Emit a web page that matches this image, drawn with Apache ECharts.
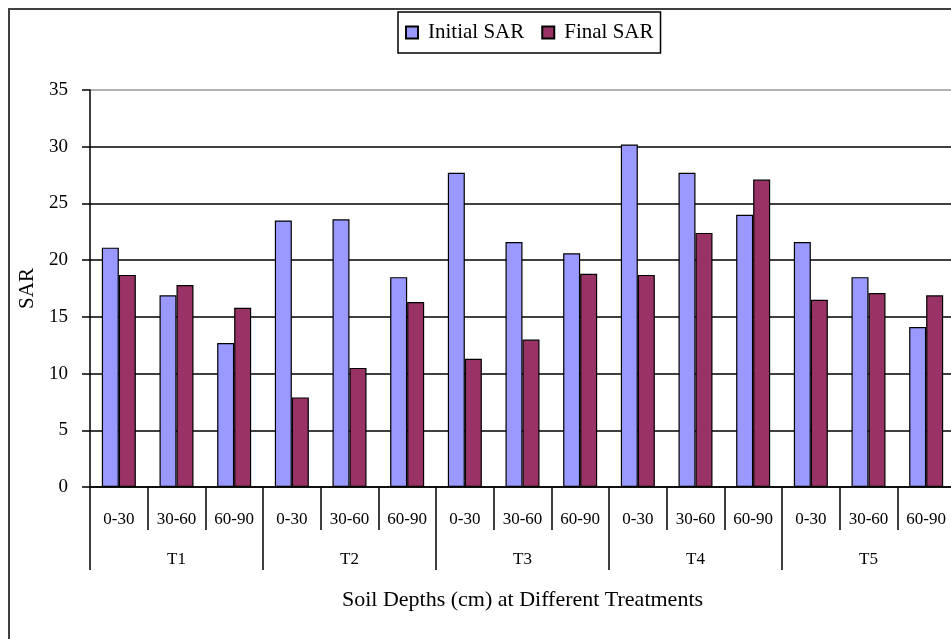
<!DOCTYPE html>
<html>
<head>
<meta charset="utf-8">
<script src="https://cdn.jsdelivr.net/npm/echarts@6/dist/echarts.min.js"></script>
<style>
  html, body { margin: 0; padding: 0; background: #fff; overflow: hidden; }
  #chart { width: 960px; height: 639px; }
</style>
</head>
<body>
<div id="chart"></div>
<script>
// Soil depth classes repeated for each treatment
const depths = ['0-30', '30-60', '60-90'];
const treatments = ['T1', 'T2', 'T3', 'T4', 'T5'];
const depthLabels = ['0-30', '30-60', '60-90', '0-30', '30-60', '60-90', '0-30', '30-60', '60-90',
                     '0-30', '30-60', '60-90', '0-30', '30-60', '60-90'];

// SAR before and after treatment, one value per depth per treatment
const initialSAR = [21.1, 16.9, 12.7, 23.5, 23.6, 18.5, 27.7, 21.6, 20.6, 30.2, 27.7, 24.0, 21.6, 18.5, 14.1];
const finalSAR   = [18.7, 17.8, 15.8, 7.9, 10.5, 16.3, 11.3, 13.0, 18.8, 18.7, 22.4, 27.1, 16.5, 17.1, 16.9];

const yTicks = { min: 0, max: 35, interval: 5 };

const serif = 'Liberation Serif';
const chart = echarts.init(document.getElementById('chart'), null, { renderer: 'canvas' });

chart.setOption({
  backgroundColor: '#ffffff',
  animation: false,
  graphic: [{
    type: 'rect',
    z: -10,
    silent: true,
    shape: { x: 9, y: 9, width: 2000, height: 2000 },
    style: { fill: 'none', stroke: '#404040', lineWidth: 2 }
  }],
  legend: {
    left: 398,
    top: 12,
    itemWidth: 12,
    itemHeight: 12,
    itemGap: 17,
    padding: [10, 7],
    icon: 'rect',
    borderColor: '#000',
    borderWidth: 1.5,
    textStyle: { fontFamily: serif, fontSize: 21, color: '#000', padding: [0, 0, 0, 5] },
    data: ['Initial SAR', 'Final SAR']
  },
  grid: { left: 90, top: 90, right: 5, bottom: 152 },
  xAxis: [{
    type: 'category',
    data: depthLabels,
    position: 'bottom',
    axisLine: { show: true, lineStyle: { color: '#000', width: 1.5 } },
    axisTick: { show: true, interval: 0, length: 43, lineStyle: { color: '#000', width: 1.5 } },
    axisLabel: { show: true, interval: 0, margin: 24, fontFamily: serif, fontSize: 17, color: '#000' },
    splitLine: { show: false }
  }, {
    type: 'category',
    data: treatments,
    position: 'bottom',
    axisLine: { show: false },
    axisTick: { show: true, interval: 0, length: 83, lineStyle: { color: '#000', width: 1.5 } },
    axisLabel: { show: true, interval: 0, margin: 64, fontFamily: serif, fontSize: 17, color: '#000' },
    name: 'Soil Depths (cm) at Different Treatments',
    nameLocation: 'middle',
    nameGap: 102,
    nameTextStyle: { fontFamily: serif, fontSize: 22, color: '#000', verticalAlign: 'top' },
    splitLine: { show: false }
  }],
  yAxis: {
    type: 'value',
    min: yTicks.min,
    max: yTicks.max,
    interval: yTicks.interval,
    name: 'SAR',
    nameLocation: 'middle',
    nameRotate: 90,
    nameGap: 52,
    nameTextStyle: { fontFamily: serif, fontSize: 21, color: '#000' },
    axisLine: { show: true, lineStyle: { color: '#000', width: 1.5 } },
    axisTick: { show: true, length: 8, lineStyle: { color: '#000', width: 1.5 } },
    axisLabel: { margin: 22, fontFamily: serif, fontSize: 19, color: '#000' },
    splitLine: {
      show: true,
      lineStyle: { color: ['#000', '#000', '#000', '#000', '#000', '#000', '#000', '#999'], width: 1.5 }
    }
  },
  series: [{
    name: 'Initial SAR',
    type: 'bar',
    xAxisIndex: 0,
    data: initialSAR,
    barWidth: 17,
    barGap: '0%',
    itemStyle: { color: '#9999ff', borderColor: '#000', borderWidth: 1.2 }
  }, {
    name: 'Final SAR',
    type: 'bar',
    xAxisIndex: 0,
    data: finalSAR,
    barWidth: 17,
    barGap: '0%',
    itemStyle: { color: '#993366', borderColor: '#000', borderWidth: 1.2 }
  }]
});
</script>
</body>
</html>
